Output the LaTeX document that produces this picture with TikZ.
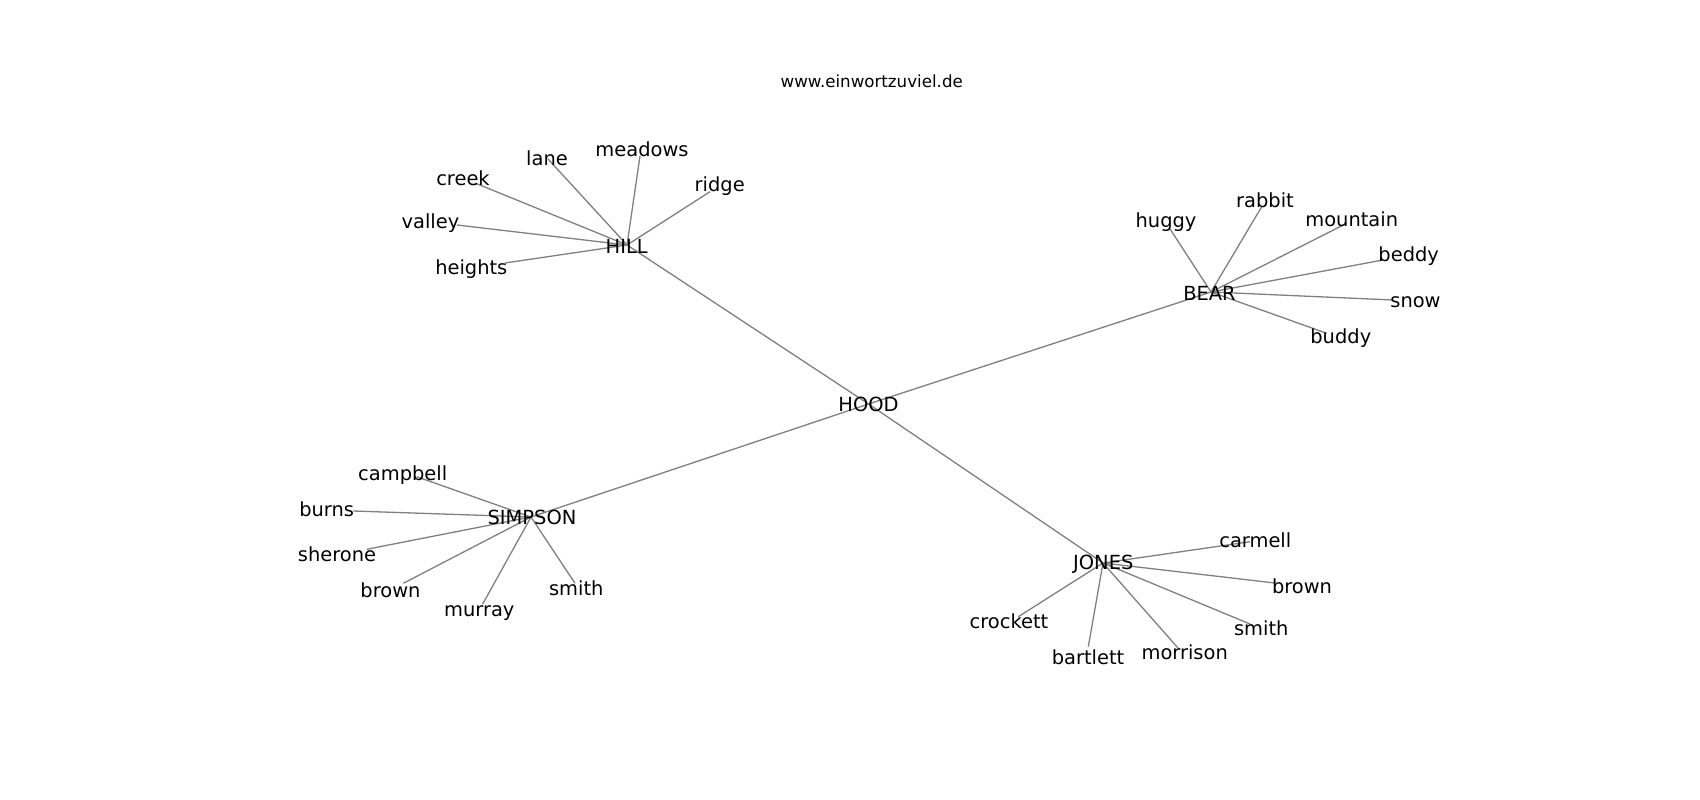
\documentclass[tikz,border=0pt]{standalone}
\usepackage{fontspec}
\setmainfont{DejaVu Sans}
\usepackage{tikz}
\usepackage{xcolor}
\definecolor{tiecol}{HTML}{808080}
\tikzset{word/.style={anchor=base, inner sep=0pt, yshift=-1pt, font=\fontsize{19.44}{22}\selectfont},
  tie/.style={draw=tiecol, line width=1.3pt}}
\newcommand{\vertex}[1]{coordinate(#1)}

\begin{document}
\begin{tikzpicture}[x=1pt, y=-1pt]
\useasboundingbox (0,0) rectangle (1700,800);
\fill[white] (0,0) rectangle (1700,800);
\draw (871.7,87.8) node[anchor=base, inner sep=0pt, font=\fontsize{16.67}{18}\selectfont](title) {www.einwortzuviel.de} ;
% hubs
\path (868.5,404) \vertex{hood} ;
\path (627,245) \vertex{hill} ;
\path (1211,292) \vertex{bear} ;
\path (531,517) \vertex{simpson} ;
\path (1103,563) \vertex{jones} ;
% leaves of HILL
\path (548,159) \vertex{lane} ;
\path (640,156) \vertex{meadows} ;
\path (475,183) \vertex{creek} ;
\path (457,225) \vertex{valley} ;
\path (505,263) \vertex{heights} ;
\path (710,191.7) \vertex{ridge} ;
% leaves of BEAR
\path (1170,229) \vertex{huggy} ;
\path (1261.7,206.7) \vertex{rabbit} ;
\path (1346.7,223.3) \vertex{mountain} ;
\path (1383,260) \vertex{beddy} ;
\path (1393,300) \vertex{snow} ;
\path (1326.7,333.3) \vertex{buddy} ;
% leaves of SIMPSON
\path (416.7,476.7) \vertex{campbell} ;
\path (353.3,511) \vertex{burns} ;
\path (366.7,549.3) \vertex{sherone} ;
\path (403.3,583.3) \vertex{sbrown} ;
\path (482.7,604) \vertex{murray} ;
\path (575,583.3) \vertex{ssmith} ;
% leaves of JONES
\path (1250,541.7) \vertex{carmell} ;
\path (1275,583) \vertex{jbrown} ;
\path (1018.3,616.7) \vertex{crockett} ;
\path (1088.3,646.7) \vertex{bartlett} ;
\path (1178.3,648.3) \vertex{morrison} ;
\path (1250,624) \vertex{jsmith} ;
% edges
\draw[tie] (hood) -- (hill) ;
\draw[tie] (hood) -- (bear) ;
\draw[tie] (hood) -- (simpson) ;
\draw[tie] (hood) -- (jones) ;
\draw[tie] (hill) -- (lane) ;
\draw[tie] (hill) -- (meadows) ;
\draw[tie] (hill) -- (creek) ;
\draw[tie] (hill) -- (valley) ;
\draw[tie] (hill) -- (heights) ;
\draw[tie] (hill) -- (ridge) ;
\draw[tie] (bear) -- (huggy) ;
\draw[tie] (bear) -- (rabbit) ;
\draw[tie] (bear) -- (mountain) ;
\draw[tie] (bear) -- (beddy) ;
\draw[tie] (bear) -- (snow) ;
\draw[tie] (bear) -- (buddy) ;
\draw[tie] (simpson) -- (campbell) ;
\draw[tie] (simpson) -- (burns) ;
\draw[tie] (simpson) -- (sherone) ;
\draw[tie] (simpson) -- (sbrown) ;
\draw[tie] (simpson) -- (murray) ;
\draw[tie] (simpson) -- (ssmith) ;
\draw[tie] (jones) -- (carmell) ;
\draw[tie] (jones) -- (jbrown) ;
\draw[tie] (jones) -- (crockett) ;
\draw[tie] (jones) -- (bartlett) ;
\draw[tie] (jones) -- (morrison) ;
\draw[tie] (jones) -- (jsmith) ;
% labels
\draw (868.5,410) node[word](hoodtext) {HOOD} ;
\draw (626.7,252.7) node[word](hilltext) {HILL} ;
\draw (1209.5,299.3) node[word](beartext) {BEAR} ;
\draw (532,523.3) node[word](simpsontext) {SIMPSON} ;
\draw (1103.3,568.5) node[word](jonestext) {JONES} ;
\draw (547,164) node[word](lanetext) {lane} ;
\draw (642,155.7) node[word](meadowstext) {meadows} ;
\draw (463,184) node[word](creektext) {creek} ;
\draw (430.5,227) node[word](valleytext) {valley} ;
\draw (471.3,273.3) node[word](heightstext) {heights} ;
\draw (719.7,190.7) node[word](ridgetext) {ridge} ;
\draw (1166,226.7) node[word](huggytext) {huggy} ;
\draw (1265,206) node[word](rabbittext) {rabbit} ;
\draw (1351.7,225.7) node[word](mountaintext) {mountain} ;
\draw (1408.7,260) node[word](beddytext) {beddy} ;
\draw (1415.5,306.7) node[word](snowtext) {snow} ;
\draw (1340.8,342.7) node[word](buddytext) {buddy} ;
\draw (402.7,479.3) node[word](campbelltext) {campbell} ;
\draw (326.7,515) node[word](burnstext) {burns} ;
\draw (337,560.7) node[word](sheronetext) {sherone} ;
\draw (390.5,596.7) node[word](sbrowntext) {brown} ;
\draw (479.3,615) node[word](murraytext) {murray} ;
\draw (576.3,594) node[word](ssmithtext) {smith} ;
\draw (1255.3,546) node[word](carmelltext) {carmell} ;
\draw (1302,592.7) node[word](jbrowntext) {brown} ;
\draw (1009,627.3) node[word](crocketttext) {crockett} ;
\draw (1088,663.3) node[word](bartletttext) {bartlett} ;
\draw (1184.7,658.3) node[word](morrisontext) {morrison} ;
\draw (1261.3,634.3) node[word](jsmithtext) {smith} ;
\end{tikzpicture}
\end{document}
